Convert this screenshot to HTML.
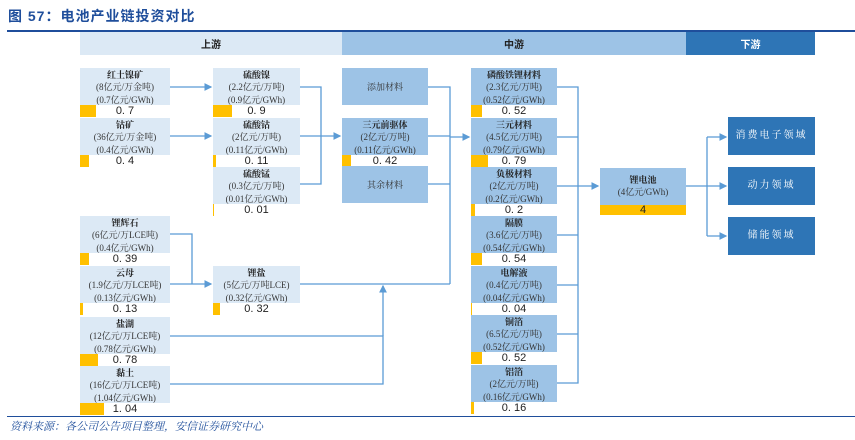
<!DOCTYPE html>
<html><head><meta charset="utf-8"><style>
body{margin:0;width:855px;height:440px;background:#fff;position:relative;overflow:hidden;font-family:"Liberation Serif","Noto Serif CJK SC","Noto Sans CJK SC",serif;}
.a{position:absolute;}
.n{position:absolute;background:#dce9f5;text-align:center;font-size:9px;line-height:12.3px;color:#333;box-sizing:border-box;padding-top:1px;}
.m{background:#9dc3e6;}
.d{background:#2e75b6;color:#fff;font-size:10px;font-weight:normal;display:flex;align-items:center;justify-content:center;letter-spacing:2px;}
.n b{font-weight:bold;color:#222;}
.br{position:absolute;height:12px;font-family:"Liberation Sans","Noto Sans CJK SC",sans-serif;font-size:11px;line-height:12px;color:#222;text-align:center;}
.br i{position:absolute;left:0;top:0;height:12px;background:#ffc000;}
.h{position:absolute;top:32px;height:23px;font-size:10px;font-weight:bold;display:flex;align-items:center;justify-content:center;font-family:"Liberation Sans","Noto Sans CJK SC",sans-serif;}
.c{display:flex;align-items:center;justify-content:center;font-size:9px;}
</style></head><body>
<div class="a" style="left:8px;top:6px;font-family:'Liberation Sans','Noto Sans CJK SC',sans-serif;font-size:14px;font-weight:bold;color:#1f4e9b;letter-spacing:1px;">图 57：电池产业链投资对比</div>
<div class="a" style="left:7px;top:30px;width:848px;height:2px;background:#1f4e9b;"></div>
<div class="h" style="left:80px;width:262px;background:#dce9f5;color:#222;">上游</div>
<div class="h" style="left:342px;width:344px;background:#9dc3e6;color:#222;">中游</div>
<div class="h" style="left:686px;width:129px;background:#2e75b6;color:#fff;">下游</div>

<div class="n" style="left:80px;top:68px;width:90px;height:37px;"><b>红土镍矿</b><br>(8亿元/万金吨)<br>(0.7亿元/GWh)</div>
<div class="br" style="left:80px;top:105px;width:90px;"><i style="width:16px"></i>0. 7</div>
<div class="n" style="left:80px;top:118px;width:90px;height:37px;"><b>钴矿</b><br>(36亿元/万金吨)<br>(0.4亿元/GWh)</div>
<div class="br" style="left:80px;top:155px;width:90px;"><i style="width:9px"></i>0. 4</div>
<div class="n" style="left:80px;top:216px;width:90px;height:37px;"><b>锂辉石</b><br>(6亿元/万LCE吨)<br>(0.4亿元/GWh)</div>
<div class="br" style="left:80px;top:253px;width:90px;"><i style="width:9px"></i>0. 39</div>
<div class="n" style="left:80px;top:266px;width:90px;height:37px;"><b>云母</b><br>(1.9亿元/万LCE吨)<br>(0.13亿元/GWh)</div>
<div class="br" style="left:80px;top:303px;width:90px;"><i style="width:3px"></i>0. 13</div>
<div class="n" style="left:80px;top:317px;width:90px;height:37px;"><b>盐湖</b><br>(12亿元/万LCE吨)<br>(0.78亿元/GWh)</div>
<div class="br" style="left:80px;top:354px;width:90px;"><i style="width:18px"></i>0. 78</div>
<div class="n" style="left:80px;top:366px;width:90px;height:37px;"><b>黏土</b><br>(16亿元/万LCE吨)<br>(1.04亿元/GWh)</div>
<div class="br" style="left:80px;top:403px;width:90px;"><i style="width:24px"></i>1. 04</div>

<div class="n" style="left:213px;top:68px;width:87px;height:37px;"><b>硫酸镍</b><br>(2.2亿元/万吨)<br>(0.9亿元/GWh)</div>
<div class="br" style="left:213px;top:105px;width:87px;"><i style="width:19px"></i>0. 9</div>
<div class="n" style="left:213px;top:118px;width:87px;height:37px;"><b>硫酸钴</b><br>(2亿元/万吨)<br>(0.11亿元/GWh)</div>
<div class="br" style="left:213px;top:155px;width:87px;"><i style="width:3px"></i>0. 11</div>
<div class="n" style="left:213px;top:167px;width:87px;height:37px;"><b>硫酸锰</b><br>(0.3亿元/万吨)<br>(0.01亿元/GWh)</div>
<div class="br" style="left:213px;top:204px;width:87px;"><i style="width:1px"></i>0. 01</div>
<div class="n" style="left:213px;top:266px;width:87px;height:37px;"><b>锂盐</b><br>(5亿元/万吨LCE)<br>(0.32亿元/GWh)</div>
<div class="br" style="left:213px;top:303px;width:87px;"><i style="width:7px"></i>0. 32</div>

<div class="n m c" style="left:342px;top:68px;width:86px;height:37px;">添加材料</div>
<div class="n m" style="left:342px;top:118px;width:86px;height:37px;"><b>三元前驱体</b><br>(2亿元/万吨)<br>(0.11亿元/GWh)</div>
<div class="br" style="left:342px;top:155px;width:86px;"><i style="width:9px"></i>0. 42</div>
<div class="n m c" style="left:342px;top:166px;width:86px;height:37px;">其余材料</div>

<div class="n m" style="left:471px;top:68px;width:86px;height:37px;"><b>磷酸铁锂材料</b><br>(2.3亿元/万吨)<br>(0.52亿元/GWh)</div>
<div class="br" style="left:471px;top:105px;width:86px;"><i style="width:11px"></i>0. 52</div>
<div class="n m" style="left:471px;top:118px;width:86px;height:37px;"><b>三元材料</b><br>(4.5亿元/万吨)<br>(0.79亿元/GWh)</div>
<div class="br" style="left:471px;top:155px;width:86px;"><i style="width:17px"></i>0. 79</div>
<div class="n m" style="left:471px;top:167px;width:86px;height:37px;"><b>负极材料</b><br>(2亿元/万吨)<br>(0.2亿元/GWh)</div>
<div class="br" style="left:471px;top:204px;width:86px;"><i style="width:4px"></i>0. 2</div>
<div class="n m" style="left:471px;top:216px;width:86px;height:37px;"><b>隔膜</b><br>(3.6亿元/万吨)<br>(0.54亿元/GWh)</div>
<div class="br" style="left:471px;top:253px;width:86px;"><i style="width:11px"></i>0. 54</div>
<div class="n m" style="left:471px;top:266px;width:86px;height:37px;"><b>电解液</b><br>(0.4亿元/万吨)<br>(0.04亿元/GWh)</div>
<div class="br" style="left:471px;top:303px;width:86px;"><i style="width:1px"></i>0. 04</div>
<div class="n m" style="left:471px;top:315px;width:86px;height:37px;"><b>铜箔</b><br>(6.5亿元/万吨)<br>(0.52亿元/GWh)</div>
<div class="br" style="left:471px;top:352px;width:86px;"><i style="width:11px"></i>0. 52</div>
<div class="n m" style="left:471px;top:365px;width:86px;height:37px;"><b>铝箔</b><br>(2亿元/万吨)<br>(0.16亿元/GWh)</div>
<div class="br" style="left:471px;top:402px;width:86px;"><i style="width:3px"></i>0. 16</div>

<div class="n m" style="left:600px;top:168px;width:86px;height:37px;padding-top:6px;"><b>锂电池</b><br>(4亿元/GWh)</div>
<div class="br" style="left:600px;top:205px;width:86px;height:10px;line-height:10px;"><i style="width:86px;height:10px"></i><span style="position:relative">4</span></div>

<div class="n d" style="left:728px;top:117px;width:87px;height:38px;">消费电子领域</div>
<div class="n d" style="left:728px;top:167px;width:87px;height:38px;">动力领域</div>
<div class="n d" style="left:728px;top:217px;width:87px;height:38px;">储能领域</div>

<svg class="a" style="left:0;top:0" width="855" height="440">
<defs><marker id="ar" markerWidth="6" markerHeight="6" refX="5" refY="3" orient="auto"><path d="M0,0 L6,3 L0,6 z" fill="#5b9bd5"/></marker></defs>
<g stroke="#5b9bd5" stroke-width="1.3" fill="none">
<path d="M170,87 H211" marker-end="url(#ar)"/>
<path d="M170,136 H211" marker-end="url(#ar)"/>
<path d="M300,87 H321 V184 H300"/>
<path d="M300,136 H340" marker-end="url(#ar)"/>
<path d="M428,87 H450 V284"/>
<path d="M428,136 H450"/>
<path d="M428,184 H450"/>
<path d="M300,284 H450"/>
<path d="M450,137 H469" marker-end="url(#ar)"/>
<path d="M170,234 H192 V284"/>
<path d="M170,284 H211" marker-end="url(#ar)"/>
<path d="M170,336 H383 V384 H170"/>
<path d="M383,336 V286" marker-end="url(#ar)"/>
<path d="M557,87 H578 V383 H557"/>
<path d="M557,137 H578 M557,186 H578 M557,235 H578 M557,285 H578 M557,334 H578"/>
<path d="M578,186 H598" marker-end="url(#ar)"/>
<path d="M686,186 H707"/>
<path d="M707,137 V236"/>
<path d="M707,137 H726" marker-end="url(#ar)"/>
<path d="M707,186 H726" marker-end="url(#ar)"/>
<path d="M707,236 H726" marker-end="url(#ar)"/>
</g></svg>

<div class="a" style="left:7px;top:416px;width:848px;height:1px;background:#1f4e9b;"></div>
<div class="a" style="left:10px;top:418px;font-size:11px;font-style:italic;color:#1f4e9b;font-family:'Liberation Serif','Noto Serif CJK SC',serif;">资料来源：各公司公告项目整理，安信证券研究中心</div>
</body></html>
